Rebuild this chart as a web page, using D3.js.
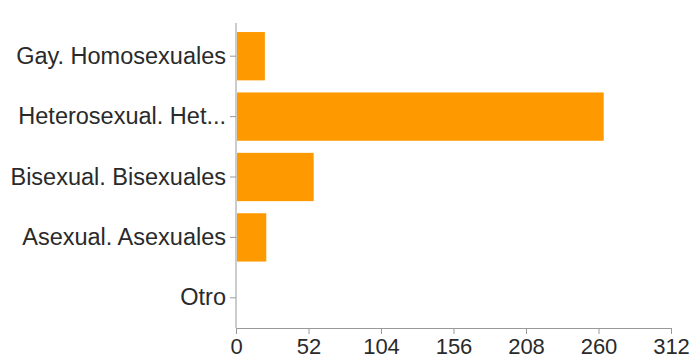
<!DOCTYPE html>
<html>
<head>
<meta charset="utf-8">
<script src="https://cdn.jsdelivr.net/npm/d3@7"></script>
<style>
  body { margin: 0; background: #fff; }
  svg { display: block; }
</style>
</head>
<body>
<svg id="chart" width="691" height="363"></svg>
<script>
// Chart data
const categories = ["Gay. Homosexuales", "Heterosexual. Het...", "Bisexual. Bisexuales", "Asexual. Asexuales", "Otro"];
const counts = [20, 263, 55, 21, 0];
const xTicks = [0, 52, 104, 156, 208, 260, 312];

const svg = d3.select("#chart");
const margin = {top: 26, right: 20, bottom: 35, left: 236};
const width = 671 - margin.left;
const height = 328 - margin.top;

const g = svg.append("g").attr("transform", `translate(${margin.left},${margin.top})`);

const x = d3.scaleLinear().domain([0, 312]).range([0, width]);
const y = d3.scaleBand().domain(categories).range([0, height]).paddingInner(0.2).paddingOuter(0.1);

// Bars
g.selectAll("rect.bar")
  .data(categories)
  .join("rect")
  .attr("class", "bar")
  .attr("x", 1)
  .attr("y", d => y(d))
  .attr("width", (d, i) => x(counts[i]))
  .attr("height", y.bandwidth())
  .attr("fill", "#ff9900");

// X axis
const xAxis = g.append("g")
  .attr("transform", `translate(0,${height})`)
  .call(d3.axisBottom(x).tickValues(xTicks).tickSize(6).tickSizeOuter(6));

// Y axis
const yAxis = g.append("g")
  .call(d3.axisLeft(y).tickSize(6).tickSizeOuter(0));

yAxis.select(".domain").attr("d", `M0,-3V${height}`);

[xAxis, yAxis].forEach(ax => {
  ax.selectAll(".domain, .tick line").attr("stroke", "#999");
  ax.selectAll("text")
    .attr("fill", "#2a2a2a")
    .style("font-family", "Liberation Sans, Arial, sans-serif");
});
xAxis.selectAll("text").attr("y", 6).attr("dy", "0.9em").style("font-size", "22px");
yAxis.selectAll("text").attr("x", -10).style("font-size", "23.5px");
</script>
</body>
</html>
